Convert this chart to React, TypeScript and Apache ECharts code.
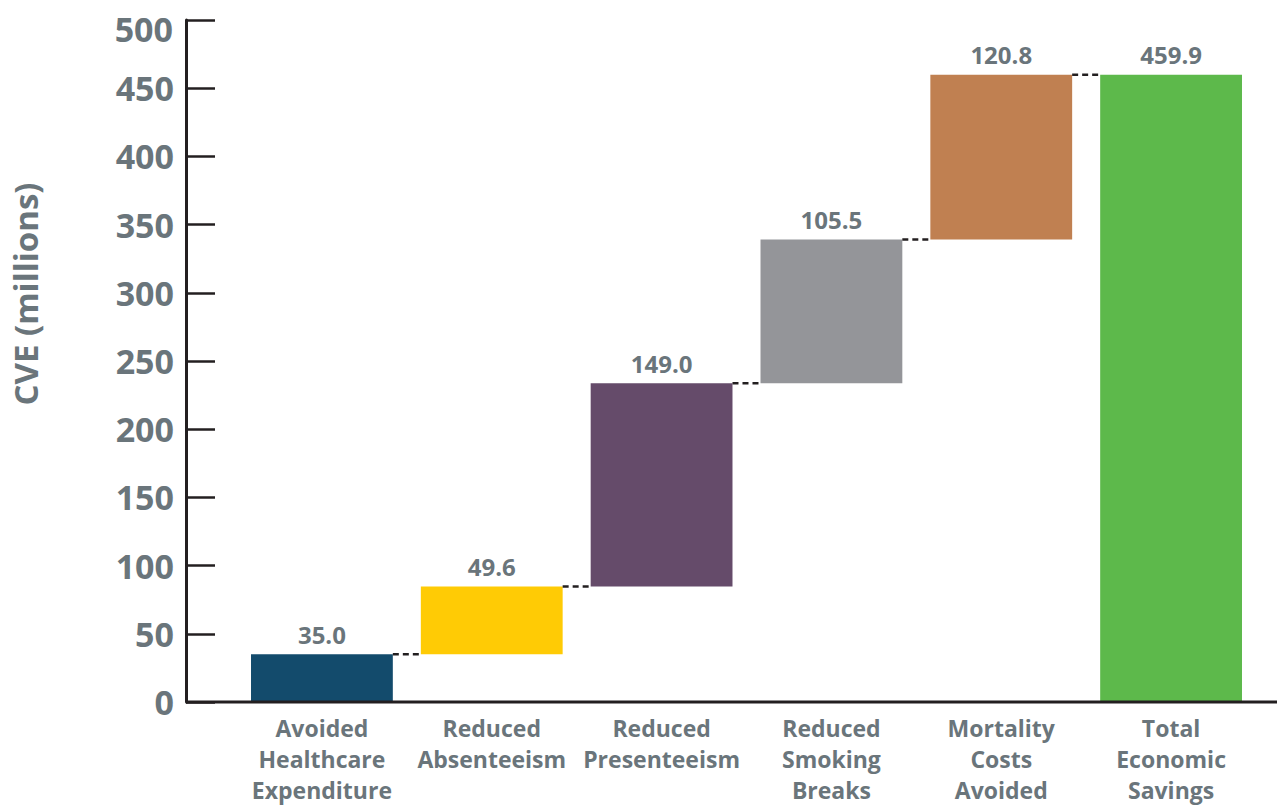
import React, { useEffect, useRef } from "react";
import * as echarts from "echarts";

const categories = [
  "Avoided\nHealthcare\nExpenditure",
  "Reduced\nAbsenteeism",
  "Reduced\nPresenteeism",
  "Reduced\nSmoking\nBreaks",
  "Mortality\nCosts\nAvoided",
  "Total\nEconomic\nSavings",
];
const increments = [35.0, 49.6, 149.0, 105.5, 120.8];
const totalValue = 459.9;
const barColors = ["#134b6c", "#ffcb05", "#654b6a", "#949599", "#c08051", "#5db94b"];
const yMin = 0;
const yMax = 500;
const yInterval = 50;
const axisTitle = "CVE (millions)";

const TEXT = "#6a757b";
const INK = "#231f20";
const FONT = "'Open Sans', 'Noto Sans', sans-serif";
const BAR_RATIO = 0.835;

export default function App() {
  const ref = useRef<HTMLDivElement>(null);
  useEffect(() => {
    if (!ref.current) return;
    const chart = echarts.init(ref.current, undefined, { renderer: "svg" });

    const values = [...increments, totalValue];
    const bases: number[] = [];
    const levels: number[] = [];
    let run = 0;
    increments.forEach((v) => {
      bases.push(run);
      run += v;
      levels.push(run);
    });
    bases.push(0);

    chart.setOption({
      animation: false,
      backgroundColor: "#ffffff",
      grid: { left: 237, right: 21, top: 20, bottom: 103, containLabel: false },
      xAxis: {
        type: "category",
        data: categories,
        axisLine: { show: false },
        axisTick: { show: false },
        axisLabel: {
          color: TEXT,
          fontFamily: FONT,
          fontWeight: "bold",
          fontSize: 23,
          lineHeight: 31,
          margin: 10,
          verticalAlign: "top",
          interval: 0,
        },
      },
      yAxis: {
        type: "value",
        min: yMin,
        max: yMax,
        interval: yInterval,
        offset: 51,
        splitLine: { show: false },
        axisLine: { show: true, lineStyle: { color: INK, width: 3 } },
        axisTick: { show: true, inside: true, length: 29, lineStyle: { color: INK, width: 2.5 } },
        axisLabel: {
          color: TEXT,
          fontFamily: FONT,
          fontWeight: "bold",
          fontSize: 34,
          margin: 12,
          formatter: (v: number) => (v === yMax ? "" : String(v)),
        },
      },
      series: [
        {
          type: "bar",
          stack: "w",
          data: bases,
          barWidth: BAR_RATIO * 100 + "%",
          itemStyle: { color: "transparent" },
          silent: true,
        },
        {
          type: "bar",
          stack: "w",
          data: values.map((v, i) => ({ value: v, itemStyle: { color: barColors[i] } })),
          barWidth: BAR_RATIO * 100 + "%",
          label: {
            show: true,
            position: "top",
            distance: 8,
            color: TEXT,
            fontFamily: FONT,
            fontWeight: "bold",
            fontSize: 24,
            formatter: (p: any) => Number(p.value).toFixed(1),
          },
        },
        {
          type: "custom",
          data: levels.map((v, i) => [i, v]),
          encode: { x: 0, y: 1 },
          z: 5,
          renderItem: (params: any, api: any) => {
            const i = api.value(0);
            const v = api.value(1);
            const p = api.coord([i, v]);
            const band = api.size([1, 0])[0];
            const half = (band * BAR_RATIO) / 2;
            return {
              type: "line",
              shape: { x1: p[0] + half, y1: p[1], x2: p[0] + band - half, y2: p[1] },
              style: { stroke: INK, lineWidth: 2.5, lineDash: [6, 4] },
            };
          },
        },
      ],
    });

    const y0 = chart.convertToPixel({ yAxisIndex: 0 }, 0) as number;
    const yTop = chart.convertToPixel({ yAxisIndex: 0 }, yMax) as number;
    chart.setOption({
      graphic: [
        {
          type: "line",
          z: 100,
          shape: { x1: 186, y1: y0, x2: 1277, y2: y0 },
          style: { stroke: INK, lineWidth: 3 },
        },
        {
          type: "text",
          x: 173,
          y: yTop + 9,
          style: {
            text: String(yMax),
            fill: TEXT,
            font: `bold 34px ${FONT}`,
            textAlign: "right",
            textVerticalAlign: "middle",
          },
        },
        {
          type: "text",
          x: 25,
          y: (yTop + y0) / 2 - 67,
          rotation: Math.PI / 2,
          style: {
            text: axisTitle,
            fill: TEXT,
            font: `bold 33px ${FONT}`,
            textAlign: "center",
            textVerticalAlign: "middle",
          },
        },
      ],
    });

    return () => chart.dispose();
  }, []);
  return (
    <div
      ref={ref}
      style={{ position: "fixed", left: 0, top: 0, width: 1277, height: 805, background: "#fff" }}
    />
  );
}
